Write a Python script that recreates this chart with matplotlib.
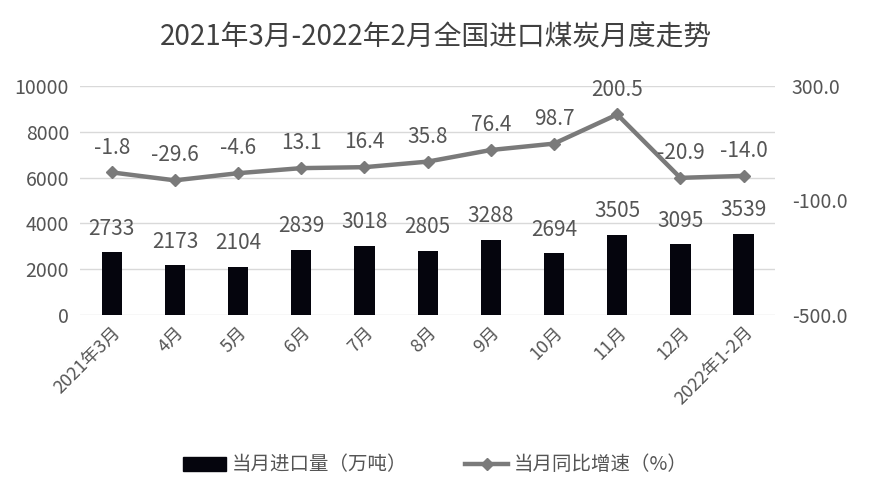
import matplotlib
matplotlib.use('Agg')
import matplotlib.pyplot as plt
from matplotlib.lines import Line2D
from matplotlib.patches import Patch

plt.rcParams['font.family'] = ['Noto Sans CJK SC', 'DejaVu Sans']

months = ['2021年3月', '4月', '5月', '6月', '7月', '8月', '9月', '10月', '11月', '12月', '2022年1-2月']
imports = [2733, 2173, 2104, 2839, 3018, 2805, 3288, 2694, 3505, 3095, 3539]
growth = [-1.8, -29.6, -4.6, 13.1, 16.4, 35.8, 76.4, 98.7, 200.5, -20.9, -14.0]

txt = '#555555'
bar_c = '#05050d'
line_c = '#7a7a7a'

fig = plt.figure(figsize=(8.71, 5.0), dpi=100)
ax = fig.add_axes([0.092, 0.37, 0.798, 0.458])
ax2 = ax.twinx()

x = list(range(len(months)))
ax.bar(x, imports, width=0.32, color=bar_c, zorder=2)
ax.set_ylim(0, 10000)
ax.set_yticks(range(0, 10001, 2000))
ax.set_xlim(-0.5, len(months) - 0.5)
ax.grid(axis='y', color='#d9d9d9', lw=1, zorder=0)
ax.set_axisbelow(True)
for s in ax.spines.values():
    s.set_visible(False)
for s in ax2.spines.values():
    s.set_visible(False)
ax.tick_params(axis='y', length=0, colors=txt, labelsize=14, pad=8)
ax.tick_params(axis='x', length=0, colors=txt, labelsize=13, pad=6)
ax.set_xticks(x)
ax.set_xticklabels(months, rotation=45, ha='right', rotation_mode='anchor')

for xi, v in zip(x, imports):
    ax.annotate(str(v), (xi, v), xytext=(0, 9), textcoords='offset points',
                ha='center', va='bottom', fontsize=15, color=txt)

ax2.plot(x, growth, color=line_c, lw=3.2, marker='D', markersize=6, zorder=3)
ax2.set_ylim(-500, 300)
ax2.set_yticks([300, -100, -500])
ax2.set_yticklabels(['300.0', '-100.0', '-500.0'])
ax2.tick_params(axis='y', length=0, colors=txt, labelsize=14, pad=12)

for xi, v in zip(x, growth):
    ax2.annotate('%.1f' % v, (xi, v), xytext=(0, 10), textcoords='offset points',
                 ha='center', va='bottom', fontsize=15, color=txt)

fig.suptitle('2021年3月-2022年2月全国进口煤炭月度走势', y=0.955, fontsize=20, color='#404040')

handles = [Patch(color=bar_c), Line2D([], [], color=line_c, lw=3.2, marker='D', markersize=6)]
fig.legend(handles, ['当月进口量（万吨）', '当月同比增速（%）'], loc='center',
           bbox_to_anchor=(0.5, 0.07), ncol=2, frameon=False, fontsize=14,
           labelcolor=txt, handlelength=2.2, handletextpad=0.3, columnspacing=3)

fig.savefig('out.png', dpi=100)
